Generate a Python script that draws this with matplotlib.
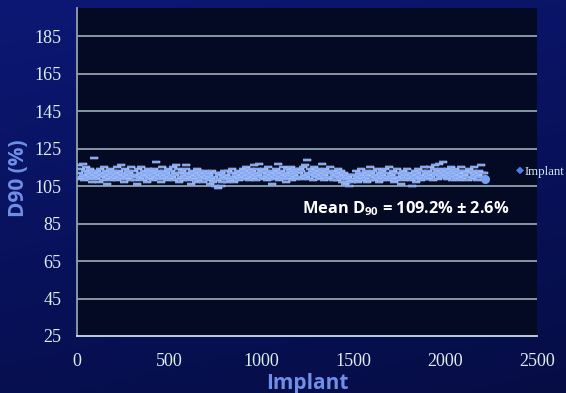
import numpy as np
import matplotlib
matplotlib.use("Agg")
import matplotlib.pyplot as plt
from matplotlib.colors import LinearSegmentedColormap

plt.rcParams["mathtext.fontset"] = "custom"
plt.rcParams["mathtext.rm"] = "Open Sans"
plt.rcParams["mathtext.bf"] = "Open Sans:bold"

# D90 (%) per implant (one value every 5 implants)
d90 = [
    116, 112, 109, 114, 110, 117, 111, 108, 113, 115, 110, 112, 109, 114, 111, 107, 113, 110, 120, 112,
    109, 113, 111, 107, 114, 110, 112, 108, 115, 111, 109, 113, 106, 112, 110, 114, 108, 111, 113, 109,
    112, 110, 115, 108, 111, 113, 109, 116, 110, 112, 107, 114, 111, 109, 113, 110, 112, 108, 115, 111,
    110, 113, 108, 111, 106, 114, 110, 112, 109, 115, 111, 108, 113, 110, 112, 107, 114, 109, 111, 113,
    110, 112, 108, 114, 111, 118, 109, 113, 110, 112, 107, 115, 111, 109, 113, 110, 112, 108, 114, 111,
    109, 113, 110, 115, 108, 112, 111, 116, 109, 114, 107, 112, 110, 113, 108, 111, 109, 114, 116, 110,
    112, 108, 111, 106, 113, 109, 112, 110, 107, 114, 111, 108, 113, 110, 109, 112, 107, 111, 113, 109,
    110, 112, 108, 111, 106, 109, 113, 107, 110, 105, 112, 108, 104, 111, 109, 105, 112, 107, 110, 113,
    109, 111, 107, 113, 110, 108, 112, 109, 114, 110, 107, 112, 111, 109, 113, 108, 110, 112, 109, 114,
    111, 113, 109, 115, 110, 112, 108, 114, 111, 113, 109, 116, 110, 112, 108, 114, 111, 117, 110, 113,
    112, 109, 114, 110, 113, 108, 111, 115, 109, 112, 110, 106, 113, 111, 109, 114, 110, 117, 112, 108,
    111, 113, 109, 115, 110, 112, 107, 114, 111, 109, 113, 110, 115, 108, 112, 111, 114, 109, 113, 110,
    112, 114, 110, 113, 109, 115, 111, 116, 110, 119, 112, 109, 114, 111, 113, 108, 112, 115, 110, 113,
    111, 114, 109, 112, 110, 117, 113, 108, 111, 114, 110, 112, 109, 113, 115, 110, 112, 108, 111, 113,
    110, 112, 108, 114, 111, 109, 113, 107, 110, 112, 106, 109, 111, 107, 110, 105, 108, 111, 107, 109,
    111, 108, 113, 110, 107, 112, 109, 111, 114, 108, 110, 112, 109, 113, 107, 111, 110, 115, 108, 112,
    110, 113, 108, 111, 109, 114, 110, 107, 112, 109, 113, 111, 108, 110, 114, 109, 112, 110, 115, 108,
    111, 109, 113, 110, 107, 112, 108, 114, 110, 112, 109, 106, 111, 113, 108, 110, 112, 109, 114, 111,
    110, 112, 108, 105, 111, 109, 113, 110, 107, 112, 114, 109, 111, 108, 113, 110, 115, 109, 112, 110,
    111, 113, 109, 115, 110, 112, 108, 114, 116, 111, 113, 109, 117, 112, 110, 114, 111, 118, 113, 110,
    112, 109, 114, 111, 113, 110, 115, 108, 112, 111, 114, 109, 113, 110, 112, 108, 115, 111, 109, 113,
    111, 113, 110, 112, 108, 114, 110, 112, 109, 113, 111, 115, 110, 112, 108, 111, 113, 110, 116, 112,
    110, 112, 109, 109,
]
implant = np.arange(1, len(d90) + 1) * 5

x_ticks = [0, 500, 1000, 1500, 2000, 2500]
y_ticks = [25, 45, 65, 85, 105, 125, 145, 165, 185]

fig = plt.figure(figsize=(5.66, 3.93), dpi=100)

# dark blue slide background
bg = fig.add_axes([0, 0, 1, 1], zorder=-10)
bg_cmap = LinearSegmentedColormap.from_list("bg", ["#0c1874", "#08125c", "#060d45"])
yy, xx = np.mgrid[0:1:200j, 0:1:200j]
bg.imshow(0.75 * yy + 0.25 * xx, cmap=bg_cmap, aspect="auto", extent=[0, 1, 1, 0])
bg.axis("off")

ax = fig.add_axes([77 / 566, 1 - 336 / 393, 460 / 566, 328 / 393])
ax.set_facecolor("#050a24")

for t in y_ticks[1:]:
    ax.axhline(t, color="#8fa3ab", lw=1.3, zorder=1)

dash = [(-1, -0.37), (1, -0.37), (1, 0.37), (-1, 0.37)]
ax.plot(implant, d90, ls="none", marker=dash, markersize=5.2,
        markerfacecolor="#6f98ee", markeredgecolor="#d4e2ff", markeredgewidth=0.35,
        zorder=3)
ax.plot(implant[-1:], d90[-1:], ls="none", marker="o", markersize=5.5,
        color="#7aa2f2", zorder=4)

ax.set_xlim(0, 2500)
ax.set_ylim(25, 200)
ax.set_xticks(x_ticks)
ax.set_yticks(y_ticks)
ax.tick_params(axis="y", length=0, labelsize=13, colors="#dbeef0", pad=11)
ax.tick_params(axis="x", length=0, labelsize=13, colors="#dbeef0", pad=12)
for lab in ax.get_xticklabels() + ax.get_yticklabels():
    lab.set_family("Liberation Serif")

for side in ["top", "right"]:
    ax.spines[side].set_visible(False)
ax.spines["left"].set_color("#8fa3ab")
ax.spines["bottom"].set_color("#c8dfe8")
ax.spines["left"].set_linewidth(1.3)
ax.spines["bottom"].set_linewidth(1.3)

fig.text(18 / 566, 1 - 178 / 393, "D90 (%)", rotation=90, ha="center", va="center",
         fontsize=15, fontweight="bold", color="#6f8fe8", family="Open Sans")
fig.text(307 / 566, 1 - 383 / 393, "Implant", ha="center", va="center",
         fontsize=15, fontweight="bold", color="#6f8fe8", family="Open Sans")

ax.text(1225, 93, "Mean D$_{\\mathbf{90}}$ = 109.2% \u00b1 2.6%",
        ha="left", va="center",
        fontsize=11.8, fontweight="bold", color="white", family="Open Sans")

# legend
fig.text(520 / 566, 1 - 170 / 393, "\u25c6", ha="center", va="center",
         fontsize=7.5, color="#4d7ff0", family="DejaVu Sans")
fig.text(524.5 / 566, 1 - 172 / 393, "Implant", ha="left", va="center",
         fontsize=9.3, color="#d6eef0", family="Liberation Serif")

fig.savefig("out.png", dpi=100)
